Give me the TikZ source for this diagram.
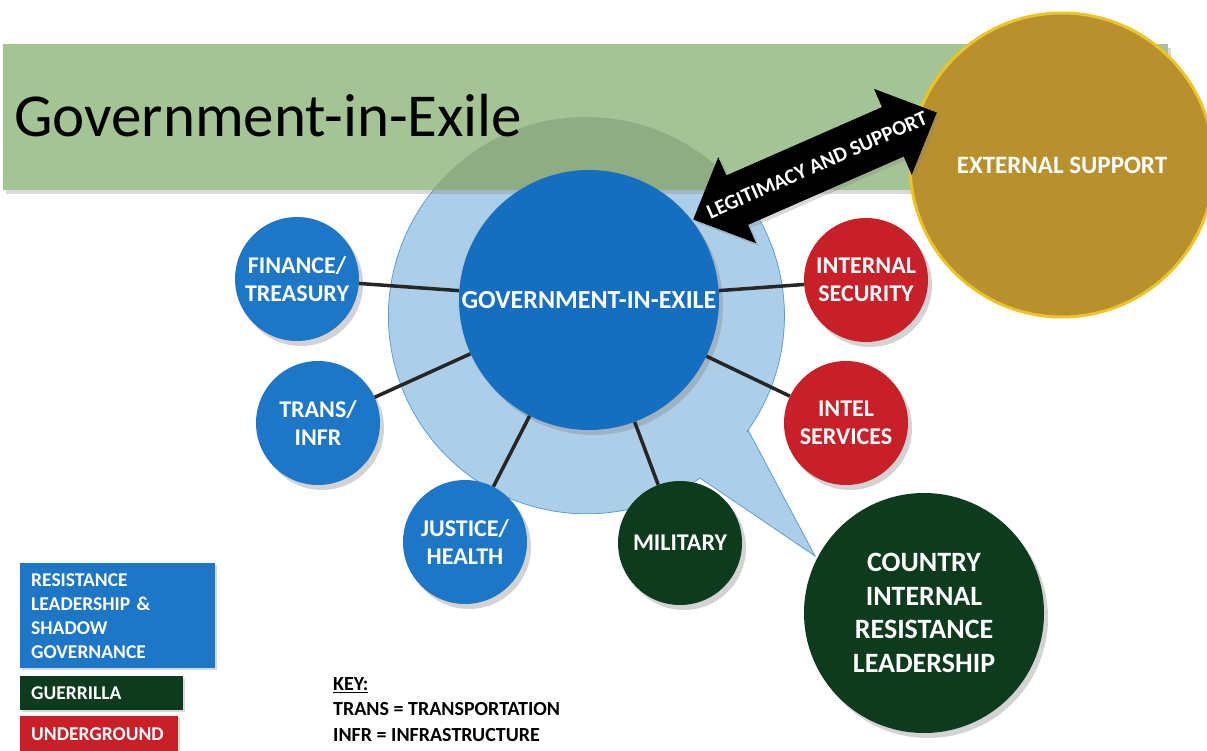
\documentclass[tikz,border=0pt]{standalone}
\usepackage{fontspec}
\setmainfont{Carlito}
\usetikzlibrary{shadows, backgrounds}
\tikzset{>=stealth}

\definecolor{bannergreen}{RGB}{164,196,149}
\definecolor{govblue}{RGB}{22,110,192}
\definecolor{subblue}{RGB}{30,118,198}
\definecolor{ugred}{RGB}{200,32,40}
\definecolor{gdarkgreen}{RGB}{14,58,30}
\definecolor{extgold}{RGB}{184,144,46}
\definecolor{extrim}{RGB}{236,196,40}
\definecolor{bubbleblue}{RGB}{90,158,210}
\newcommand\fsz[2]{\fontsize{#1}{#2}\selectfont}

\tikzset{
  org/.style={circle, minimum size=124, inner sep=0pt, text=white, align=center,
    font=\bfseries\fsz{24}{28},
    drop shadow={opacity=0.35, shadow xshift=4pt, shadow yshift=-5pt}},
  link/.style={line width=3.5, black!85},
  keybox/.style={rectangle, anchor=north west, text=white, align=left,
    font=\bfseries\fsz{19.5}{24}, inner xsep=11, inner ysep=0,
    drop shadow={opacity=0.3, shadow xshift=2pt, shadow yshift=-2pt}},
}

\begin{document}
\begin{tikzpicture}[x=1pt, y=-1pt]
\useasboundingbox (0,0) rectangle (1207,751);

% speech bubble
\filldraw[fill=bubbleblue, fill opacity=0.5, draw=bubbleblue, line width=0.8]
  (748,430) -- (815,556) -- (700,478) arc[start angle=55, end angle=396, radius=198] -- cycle;

% banner
\fill[bannergreen, drop shadow={opacity=0.3, shadow xshift=3pt, shadow yshift=-4pt}] (3,44) rectangle (1168,190);
\begin{scope}
  \clip (3,44) rectangle (1168,190);
  \fill[bannergreen!88!black] (586,315) circle (198);
\end{scope}
\node[anchor=west, font=\fsz{61}{64}, inner sep=0pt] (title) at (14,116) {Government-in-Exile};

\node[circle, minimum size=304, fill=extgold, draw=extrim, line width=3, text=white,
  font=\bfseries\fsz{25}{28}] (ext) at (1062,165) {EXTERNAL SUPPORT};

% centre and offices
\node[org, fill=govblue, minimum size=260, font=\bfseries\fsz{26}{30}] (gov) at (589,300) {GOVERNMENT-IN-EXILE};
\node[org, fill=subblue] (fin) at (297,279) {FINANCE/\\TREASURY};
\node[org, fill=subblue] (trans) at (318,423) {TRANS/\\INFR};
\node[org, fill=subblue] (just) at (465,542) {JUSTICE/\\HEALTH};
\node[org, fill=gdarkgreen] (mil) at (680,543) {MILITARY};
\node[org, fill=ugred] (isec) at (866,280) {INTERNAL\\SECURITY};
\node[org, fill=ugred] (intel) at (846,423) {INTEL\\SERVICES};
\node[org, fill=gdarkgreen, minimum size=240, font=\bfseries\fsz{28}{33.5}] (country) at (924,613) {COUNTRY\\INTERNAL\\RESISTANCE\\LEADERSHIP};

\foreach \o in {fin, trans, just, mil, isec, intel}
  \draw[link] (gov) -- (\o);

% legitimacy arrow
\begin{scope}[shift={(815,166)}, rotate=23.7]
  \fill[black, drop shadow={opacity=0.3, shadow xshift=3pt, shadow yshift=-3pt}]
    (-133,0) -- (-85,-47) -- (-85,-27) -- (85,-27) -- (85,-47) -- (133,0)
    -- (85,47) -- (85,27) -- (-85,27) -- (-85,47) -- cycle;
\end{scope}
\node[text=white, rotate=23.7, inner sep=0pt, font=\bfseries\fsz{21}{23}] (legit) at (817,165) {LEGITIMACY AND SUPPORT};

% legend
\node[keybox, fill=subblue, minimum width=195, minimum height=105, text width=173] (kgov) at (20,563)
  {RESISTANCE\\LEADERSHIP \&\\SHADOW\\GOVERNANCE};
\node[keybox, fill=gdarkgreen, minimum width=163, minimum height=34, text width=141] (kguer) at (20,676) {GUERRILLA};
\node[keybox, fill=ugred, minimum width=158, minimum height=36, text width=136] (kund) at (20,716) {UNDERGROUND};

\node[anchor=north west, align=left, inner sep=0pt, font=\bfseries\fsz{20}{25.5}] (key) at (333,677)
  {\underline{KEY:}\\TRANS = TRANSPORTATION\\INFR = INFRASTRUCTURE};

\end{tikzpicture}
\end{document}
